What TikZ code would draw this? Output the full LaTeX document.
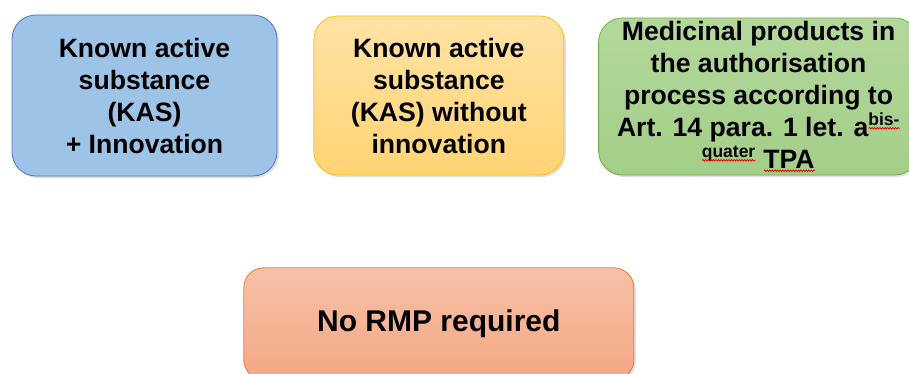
\documentclass[tikz,border=0pt]{standalone}
\usepackage{fontspec}
\setmainfont{Liberation Sans}
\usetikzlibrary{positioning, shadows, decorations.pathmorphing}
\definecolor{blueFill}{HTML}{9DC3E6}
\definecolor{blueLine}{HTML}{4A76C0}
\definecolor{orangeTop}{HTML}{FFE2A4}
\definecolor{orangeBot}{HTML}{FFD474}
\definecolor{orangeLine}{HTML}{FFC000}
\definecolor{greenTop}{HTML}{B3D89C}
\definecolor{greenBot}{HTML}{A3CE88}
\definecolor{greenLine}{HTML}{70AD47}
\definecolor{salmonTop}{HTML}{F7C1A7}
\definecolor{salmonBot}{HTML}{F4A784}
\definecolor{salmonLine}{HTML}{ED7D31}
% red spell-check squiggle under a word
\newsavebox\wavebox
\newlength\wavelen
\newcommand\spellwave[1]{\sbox\wavebox{#1}\setlength\wavelen{\wd\wavebox}%
  \rlap{\usebox\wavebox}\tikz[baseline=2.5pt]\draw[red!90!black,line width=0.75pt,sharp corners,
    decorate,decoration={snake,amplitude=0.8pt,segment length=2.6pt}] (0,0) -- (\wavelen,0);}
% raised small text with squiggle
\newcommand\supwave[1]{\raisebox{10.5pt}{\fontsize{17.5}{17.5}\selectfont\spellwave{#1}}}
\tikzset{
  card/.style={rectangle,rounded corners=24pt,align=center,inner sep=0pt,line width=0.8pt,
    font=\fontsize{26.6}{32}\selectfont\bfseries,
    drop shadow={opacity=0.25,shadow xshift=2pt,shadow yshift=-2pt}},
  kas/.style={card,draw=blueLine,fill=blueFill},
  plain/.style={card,draw=orangeLine,top color=orangeTop,bottom color=orangeBot},
  tpa/.style={card,draw=greenLine,top color=greenTop,bottom color=greenBot},
  result/.style={card,rounded corners=20pt,draw=salmonLine,top color=salmonTop,bottom color=salmonBot,
    font=\fontsize{30}{36}\selectfont\bfseries}
}

\begin{document}
\begin{tikzpicture}[node distance=34pt and 36pt]
\clip (0,0) rectangle (909pt,-374pt);
\node[kas, minimum width=265pt, minimum height=161pt] (ka) at (144.5pt,-95.5pt)
  {Known active\\substance\\(KAS)\\+ Innovation};
\node[plain, minimum width=250pt, minimum height=159pt, right=36pt of ka] (kb)
  {Known active\\substance\\(KAS) without\\innovation};
\node[tpa, minimum width=320pt, minimum height=157pt, right=34pt of kb, yshift=-1pt] (kc)
  {Medicinal products in\\the authorisation\\process according to\\Art. 14 para. 1 let. a\supwave{bis-}\\\supwave{quater} \spellwave{TPA}};
\node[result, minimum width=390pt, minimum height=112pt, below=92pt of kb] (res)
  {No RMP required};
\end{tikzpicture}
\end{document}
